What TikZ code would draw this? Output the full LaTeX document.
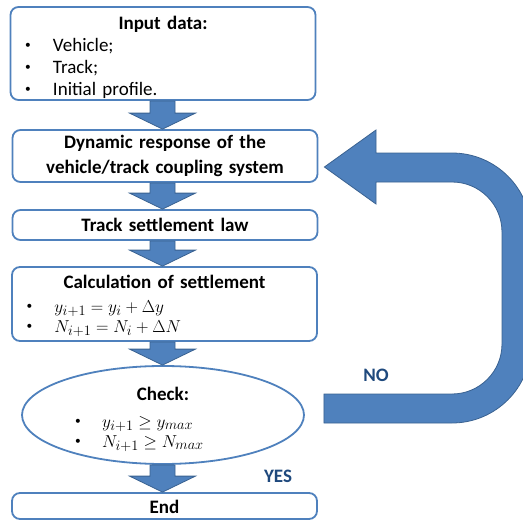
\documentclass[tikz,border=0pt]{standalone}
\usepackage{fontspec}
\setmainfont{Carlito}
\usepackage{amsmath}
\usepackage{amssymb}
\usepackage{xcolor}
\usepackage{tikz}
\usetikzlibrary{calc,shapes.geometric}

\definecolor{boxblue}{HTML}{4F81BD}
\definecolor{arrowedge}{HTML}{3A6291}
\definecolor{labelblue}{HTML}{1F497D}

\newcommand{\itemdot}[1]{\hspace*{6pt}\makebox[#1][l]{\hspace*{1pt}\raisebox{3pt}{\scalebox{0.6}{\textbullet}}}}

\begin{document}
\begin{tikzpicture}[x=1pt,y=-1pt,
        flowbox/.style={draw=boxblue, line width=1.8pt, rounded corners=8pt, fill=white,
            minimum width=305pt, text width=290pt, inner sep=0pt,
            font=\fontsize{19}{22}\selectfont},
        blockarrow/.style={fill=boxblue, draw=arrowedge, line width=0.8pt, line join=miter},
        answer/.style={font=\fontsize{19}{22}\selectfont\bfseries, text=labelblue}]
        \useasboundingbox (0,0) rectangle (523,522);

        \node[flowbox, align=left, minimum height=93pt, text height=0pt, text depth=49pt] (inp) at (163,53.5)
            {\makebox[\linewidth]{\bfseries Input data:}\\[1pt]
             \itemdot{29pt}Vehicle;\\
             \itemdot{29pt}Track;\\
             \itemdot{29pt}Initial profile.};
        \node[flowbox, align=center, minimum height=52pt, text height=0pt, text depth=16pt,
            font=\fontsize{19}{25}\selectfont\bfseries] (dyn) at (165,156)
            {Dynamic response of the\\ vehicle/track coupling system};
        \node[flowbox, align=center, minimum height=30pt, text height=13pt, text depth=0pt,
            font=\fontsize{19}{22}\selectfont\bfseries] (law) at (165,225)
            {Track settlement law};
        \node[flowbox, align=left, minimum height=74pt, text height=0pt, text depth=32pt,
            font=\fontsize{19}{20}\selectfont] (calc) at (164.5,304)
            {\makebox[\linewidth]{\bfseries Calculation of settlement}\\[4pt]
             \itemdot{29pt}$y_{i+1}=y_i+\Delta y$\\
             \itemdot{29pt}$N_{i+1}=N_i+\Delta N$};
        \node[flowbox, ellipse, rounded corners=0pt, align=left, minimum width=282pt, minimum height=98pt,
            text width=190pt, text height=0pt, text depth=30pt,
            font=\fontsize{19}{20}\selectfont] (chk) at (163,415)
            {\makebox[\linewidth]{\bfseries Check:}\\[7pt]
             \itemdot{28pt}$y_{i+1}\geq y_{max}$\\
             \itemdot{28pt}$N_{i+1}\geq N_{max}$};
        \node[flowbox, align=center, minimum height=26pt, text height=14pt, text depth=0pt,
            font=\fontsize{19}{22}\selectfont\bfseries] (fin) at (164.5,506)
            {End};

        % down arrows between the steps
        \foreach \a/\b in {inp/dyn, dyn/law, law/calc, calc/chk, chk/fin} {
            \draw[blockarrow] ($(\a.south -| 162.5,0)+(-12.5,0)$) -- ($(\b.north -| 162.5,0)+(-12.5,-16)$)
                -- ($(\b.north -| 162.5,0)+(-33,-16)$) -- (\b.north -| 162.5,0)
                -- ($(\b.north -| 162.5,0)+(33,-16)$) -- ($(\b.north -| 162.5,0)+(12.5,-16)$)
                -- ($(\a.south -| 162.5,0)+(12.5,0)$) -- cycle;
        }

        % loop back
        \coordinate (back) at ($(dyn.east)+(6,11)$);
        \coordinate (loop) at ($(chk.east)+(19,-7)$);
        \draw[blockarrow] (back) -- (376,130) -- (376,153) -- (452,153)
            .. controls (495.6,153) and (531,188.4) .. (531,232) -- (531,344)
            .. controls (531,387.6) and (495.6,423) .. (452,423)
            -- ($(loop)+(0,15)$) -- ($(loop)+(0,-14)$) -- (452,394)
            .. controls (479.6,394) and (502,371.6) .. (502,344) -- (502,232)
            .. controls (502,204.4) and (479.6,182) .. (452,182)
            -- (376,182) -- (376,204) -- cycle;

        \node[answer] (no) at (376,375) {NO};
        \node[answer] (yes) at (278,476) {YES};
    \end{tikzpicture}
\end{document}
